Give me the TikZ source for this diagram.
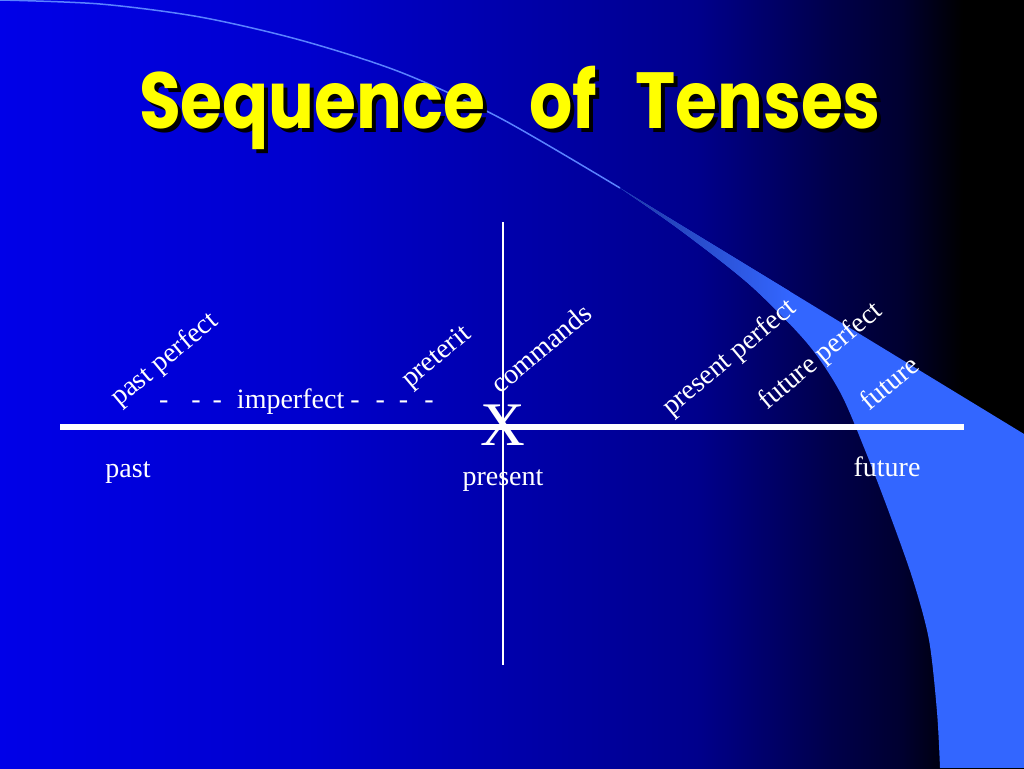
\documentclass[tikz,border=0pt]{standalone}
\usepackage{fontspec}
\usepackage{tikz}
\usetikzlibrary{positioning}
\setmainfont{Liberation Serif}
\newfontfamily\titlefont{Poppins}
\definecolor{bgA}{RGB}{0,0,232}
\definecolor{bgB}{RGB}{0,0,205}
\definecolor{bgC}{RGB}{0,0,140}
\definecolor{bgD}{RGB}{0,0,75}
\definecolor{bgE}{RGB}{0,0,48}
\definecolor{bandblue}{RGB}{51,102,255}
\definecolor{tipblue}{RGB}{30,50,150}
\definecolor{swooshline}{RGB}{90,130,255}
\definecolor{titleyellow}{RGB}{255,255,0}
\pgfdeclarehorizontalshading{slidebg}{100bp}{color(0bp)=(bgA); color(25bp)=(bgA); color(40bp)=(bgB); color(59bp)=(bgC); color(65.5bp)=(bgD); color(69bp)=(bgE); color(72bp)=(black); color(100bp)=(black)}

\begin{document}
\begin{tikzpicture}[
  x=1pt, y=-1pt,
  title/.style={font=\titlefont\bfseries\fontsize{68}{72}\selectfont, anchor=base, yscale=1.17},
  plain/.style={text=white, font=\fontsize{28}{30}\selectfont},
  tense/.style={plain, rotate=40}
]
  \useasboundingbox (0,0) rectangle (1024,768);

  % Background
  \shade[shading=slidebg] (0,0) rectangle (1024,768);

  % Swoosh band
  \begin{scope}
    \clip (620,188) -- (1024,434) -- (1024,768) -- (940,768)
      -- plot[smooth] coordinates {(940,768) (937,712) (929,640) (913,580) (890,515) (865,450) (840,392) (807,343) (750,285) (680,230) (620,188)} -- cycle;
    \fill[bandblue] (600,150) rectangle (1024,768);
    \shade[left color=tipblue, right color=bandblue] (600,170) rectangle (790,360);
  \end{scope}
  \draw[swooshline, line width=1.5pt] plot[smooth] coordinates {(0,0) (100,4) (200,17) (300,40) (400,72) (500,118) (620,188)};

  % Title
  \node[title, text=black] (title-shadow) at (514,132) {Sequence\hspace{44pt}of\hspace{38pt}Tenses};
  \node[title, text=titleyellow] (title) at (510,128) {Sequence\hspace{44pt}of\hspace{38pt}Tenses};

  % Time line
  \coordinate (tl-start) at (60,427);
  \coordinate (tl-end) at (964,427);
  \draw[white, line width=5.5pt] (tl-start) -- (tl-end);
  \coordinate (now-top) at (503,222);
  \coordinate (now-bot) at (503,665);
  \draw[white, line width=1.3pt] (now-top) -- (now-bot);
  \node[plain, font=\fontsize{62}{66}\selectfont] (now) at (503,425.5) {X};

  % Tenses along the line
  \foreach \nm/\txt/\x/\y in {pastperf/past perfect/165/360, preterit/preterit/437/358,
      commands/commands/541/348, presperf/present perfect/730/358,
      futperf/future perfect/821/357, futtense/future/889/383} {
    \node[tense] (\nm) at (\x,\y) {\txt};
  }
  \node[plain, anchor=base west] (imperfect) at (155.5,408)
    {-\hspace{23pt}-\hspace{12pt}-\hspace{15pt}imperfect\hspace{6pt}-\hspace{16pt}-\hspace{14pt}-\hspace{16pt}-};

  % Points in time
  \node[plain, anchor=base] (past) at (128,477) {past};
  \node[plain, anchor=base] (present) at (503,485) {present};
  \node[plain, anchor=base] (future) at (887,476) {future};
\end{tikzpicture}
\end{document}
